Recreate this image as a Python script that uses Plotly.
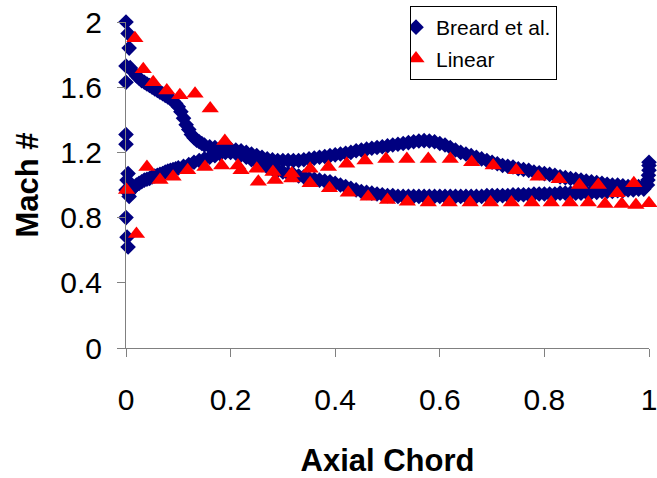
import plotly.graph_objects as go

# ---------------- data ----------------
# Breard et al. : upper branch (suction side)
breard_upper_x = [0.008, 0.015, 0.020, 0.025, 0.030, 0.035, 0.040, 0.045, 0.050, 0.055,
                  0.060, 0.065, 0.070, 0.075, 0.080, 0.085, 0.090, 0.095, 0.100, 0.105,
                  0.110, 0.115, 0.120, 0.125, 0.130, 0.135, 0.140, 0.145, 0.150, 0.16,
                  0.17, 0.18, 0.19, 0.20, 0.21, 0.22, 0.23, 0.24, 0.25, 0.26,
                  0.27, 0.28, 0.29, 0.30, 0.31, 0.32, 0.33, 0.34, 0.35, 0.36,
                  0.37, 0.38, 0.39, 0.40, 0.41, 0.42, 0.43, 0.44, 0.45, 0.46,
                  0.47, 0.48, 0.49, 0.50, 0.51, 0.52, 0.53, 0.54, 0.55, 0.56,
                  0.57, 0.58, 0.59, 0.60, 0.61, 0.62, 0.63, 0.64, 0.65, 0.66,
                  0.67, 0.68, 0.69, 0.70, 0.71, 0.72, 0.73, 0.74, 0.75, 0.76,
                  0.77, 0.78, 0.79, 0.80, 0.81, 0.82, 0.83, 0.84, 0.85, 0.86,
                  0.87, 0.88, 0.89, 0.90, 0.91, 0.92, 0.93, 0.94, 0.95, 0.96,
                  0.97, 0.98, 0.99]
breard_upper_y = [1.72, 1.69, 1.67, 1.655, 1.64, 1.63, 1.62, 1.61, 1.60, 1.59,
                  1.58, 1.57, 1.56, 1.55, 1.54, 1.53, 1.515, 1.50, 1.48, 1.45,
                  1.41, 1.37, 1.34, 1.31, 1.29, 1.275, 1.265, 1.255, 1.245, 1.235,
                  1.23, 1.225, 1.225, 1.22, 1.215, 1.21, 1.20, 1.19, 1.18, 1.17,
                  1.16, 1.155, 1.15, 1.15, 1.15, 1.15, 1.15, 1.155, 1.16, 1.165,
                  1.17, 1.175, 1.18, 1.185, 1.19, 1.195, 1.20, 1.21, 1.215, 1.22,
                  1.225, 1.23, 1.235, 1.24, 1.245, 1.25, 1.255, 1.26, 1.265, 1.27,
                  1.272, 1.27, 1.265, 1.255, 1.245, 1.23, 1.215, 1.20, 1.19, 1.18,
                  1.17, 1.16, 1.15, 1.14, 1.13, 1.12, 1.115, 1.11, 1.10, 1.095,
                  1.09, 1.08, 1.075, 1.07, 1.065, 1.06, 1.05, 1.045, 1.04, 1.035,
                  1.03, 1.025, 1.02, 1.015, 1.01, 1.005, 1.00, 1.00, 0.995, 0.99,
                  0.99, 0.99, 0.995]

# Breard et al. : lower branch (pressure side)
breard_lower_x = [0.005, 0.010, 0.015, 0.020, 0.025, 0.030, 0.035, 0.040, 0.045, 0.050,
                  0.055, 0.060, 0.065, 0.070, 0.075, 0.080, 0.085, 0.090, 0.095, 0.10,
                  0.11, 0.12, 0.13, 0.14, 0.15, 0.16, 0.17, 0.18, 0.19, 0.20,
                  0.21, 0.22, 0.23, 0.24, 0.25, 0.26, 0.27, 0.28, 0.29, 0.30,
                  0.31, 0.32, 0.33, 0.34, 0.35, 0.36, 0.37, 0.38, 0.39, 0.40,
                  0.41, 0.42, 0.43, 0.44, 0.45, 0.46, 0.47, 0.48, 0.49, 0.50,
                  0.51, 0.52, 0.53, 0.54, 0.55, 0.56, 0.57, 0.58, 0.59, 0.60,
                  0.61, 0.62, 0.63, 0.64, 0.65, 0.66, 0.67, 0.68, 0.69, 0.70,
                  0.71, 0.72, 0.73, 0.74, 0.75, 0.76, 0.77, 0.78, 0.79, 0.80,
                  0.81, 0.82, 0.83, 0.84, 0.85, 0.86, 0.87, 0.88, 0.89, 0.90,
                  0.91, 0.92, 0.93, 0.94, 0.95, 0.96, 0.97, 0.98, 0.99]
breard_lower_y = [0.95, 0.97, 0.985, 1.00, 1.01, 1.02, 1.03, 1.035, 1.04, 1.05,
                  1.055, 1.06, 1.065, 1.07, 1.08, 1.085, 1.09, 1.095, 1.10, 1.105,
                  1.115, 1.125, 1.14, 1.15, 1.16, 1.17, 1.18, 1.19, 1.20, 1.20,
                  1.195, 1.185, 1.17, 1.155, 1.14, 1.125, 1.11, 1.10, 1.09, 1.08,
                  1.07, 1.065, 1.055, 1.05, 1.04, 1.035, 1.03, 1.025, 1.02, 1.01,
                  1.00, 0.99, 0.98, 0.97, 0.96, 0.955, 0.95, 0.945, 0.94, 0.935,
                  0.935, 0.93, 0.93, 0.93, 0.93, 0.93, 0.93, 0.93, 0.93, 0.93,
                  0.93, 0.93, 0.93, 0.93, 0.93, 0.93, 0.93, 0.93, 0.935, 0.935,
                  0.935, 0.935, 0.935, 0.94, 0.94, 0.94, 0.94, 0.945, 0.945, 0.945,
                  0.945, 0.945, 0.95, 0.95, 0.95, 0.95, 0.95, 0.955, 0.955, 0.955,
                  0.96, 0.96, 0.96, 0.965, 0.965, 0.97, 0.97, 0.975, 0.975]

# Breard et al. : leading-edge and trailing-edge clusters
breard_le_x = [0.000, 0.004, 0.006, 0.000, 0.000, 0.000, 0.000, 0.004, 0.002, 0.000,
               0.006, 0.000, 0.002, 0.004]
breard_le_y = [2.00, 1.93, 1.84, 1.73, 1.63, 1.31, 1.25, 1.07, 1.03, 0.97,
               0.93, 0.80, 0.68, 0.62]
breard_te_x = [0.997, 0.998, 0.999, 1.000, 1.000, 1.000]
breard_te_y = [1.00, 1.03, 1.06, 1.09, 1.12, 1.14]

# Linear
linear_x = [0.017, 0.033, 0.052, 0.078, 0.103, 0.132, 0.161, 0.189,
            0.001, 0.020, 0.040, 0.065, 0.090, 0.118, 0.151, 0.183, 0.214,
            0.220, 0.250, 0.253, 0.281, 0.285, 0.317, 0.317,
            0.352, 0.387, 0.422, 0.457, 0.497, 0.537, 0.578, 0.620, 0.661, 0.702,
            0.746, 0.788, 0.828, 0.867, 0.903, 0.939, 0.971,
            0.352, 0.389, 0.425, 0.463, 0.500, 0.538, 0.578, 0.618, 0.658, 0.697,
            0.737, 0.776, 0.813, 0.849, 0.884, 0.916, 0.948, 0.975, 1.000]
linear_y = [1.90, 1.71, 1.63, 1.58, 1.55, 1.56, 1.47, 1.27,
            0.97, 0.70, 1.11, 1.03, 1.05, 1.09, 1.11, 1.12, 1.12,
            1.09, 1.10, 1.02, 1.08, 1.03, 1.07, 1.04,
            1.10, 1.11, 1.13, 1.15, 1.16, 1.16, 1.16, 1.16, 1.14, 1.12,
            1.09, 1.05, 1.035, 1.00, 1.00, 0.95, 1.01,
            1.01, 0.98, 0.953, 0.928, 0.908, 0.898, 0.892, 0.892, 0.892, 0.892,
            0.892, 0.892, 0.892, 0.892, 0.892, 0.883, 0.883, 0.877, 0.888]

x_ticks = [0, 0.2, 0.4, 0.6, 0.8, 1]
x_tick_labels = ["0", "0.2", "0.4", "0.6", "0.8", "1"]
y_ticks = [0, 0.4, 0.8, 1.2, 1.6, 2]
y_tick_labels = ["0", "0.4", "0.8", "1.2", "1.6", "2"]

# ---------------- figure ----------------
FONT = "Liberation Sans, Arial, sans-serif"
breard_x = breard_le_x + breard_upper_x + breard_lower_x + breard_te_x
breard_y = breard_le_y + breard_upper_y + breard_lower_y + breard_te_y

fig = go.Figure()
fig.add_trace(go.Scatter(
    x=breard_x, y=breard_y, mode="markers", name="Breard et al.",
    legendgroup="g1",
    marker=dict(symbol="diamond", size=12, color="#000080", line=dict(width=0)),
    cliponaxis=False,
))
fig.add_trace(go.Scatter(
    x=linear_x, y=linear_y, mode="markers", name="Linear",
    legendgroup="g2",
    marker=dict(symbol="triangle-up", size=15, color="#FF0000", line=dict(width=0)),
    cliponaxis=False,
))

axis_common = dict(
    showline=True, linecolor="#808080", linewidth=1,
    ticks="outside", ticklen=8, tickcolor="#808080", tickwidth=1,
    showgrid=False, zeroline=False, automargin=False,
    ticklabeloverflow="allow",
    tickfont=dict(family=FONT, size=30, color="black"),
)
fig.update_layout(
    width=657, height=478,
    margin=dict(l=126, r=8, t=22, b=130, autoexpand=False),
    paper_bgcolor="white", plot_bgcolor="white",
    showlegend=True,
    legend=dict(
        x=(410 - 126) / 523, y=(348 - 6) / 326, xanchor="left", yanchor="top",
        bgcolor="white", bordercolor="black", borderwidth=1,
        font=dict(family=FONT, size=21, color="black"),
        itemwidth=30, indentation=-15, tracegroupgap=1,
    ),
    xaxis=dict(
        range=[0, 1], tickvals=x_ticks, ticktext=x_tick_labels,
        ticklabelstandoff=17,
        title=dict(text="Axial Chord", standoff=35,
                   font=dict(family=FONT, size=31, color="black", weight="bold")),
        **axis_common,
    ),
    yaxis=dict(
        range=[0, 2], tickvals=y_ticks, ticktext=y_tick_labels,
        ticklabelstandoff=9,
        title=dict(text="Mach #", standoff=12,
                   font=dict(family=FONT, size=31, color="black", weight="bold")),
        **axis_common,
    ),
)

fig.write_html("out.html")
